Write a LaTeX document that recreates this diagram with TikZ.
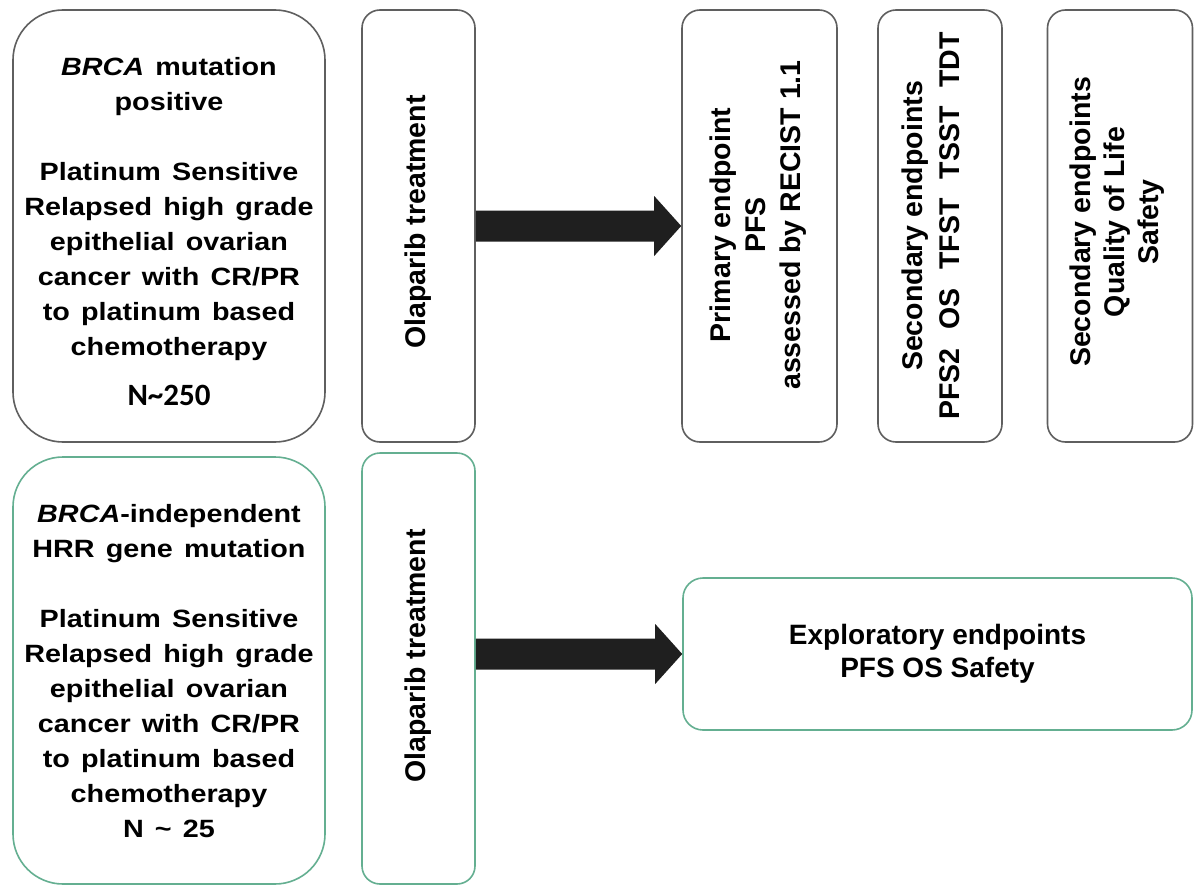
\documentclass[tikz,border=0pt]{standalone}
\usepackage{fontspec}
\setmainfont{Liberation Sans}
\newfontfamily\widefont[FakeStretch=1.15,WordSpace=1.4]{Liberation Sans}
\newfontfamily\calfont{Carlito}
\usetikzlibrary{calc}
\definecolor{edgegray}{RGB}{95,95,95}
\definecolor{edgegreen}{RGB}{100,175,145}
\tikzset{
  box/.style={draw=edgegray, line width=1.6pt, rounded corners=18pt, inner sep=0pt},
  gbox/.style={box, draw=edgegreen},
  htext/.style={font=\widefont\bfseries\fontsize{25}{35}\selectfont, align=center, inner sep=0pt},
  vtext/.style={font=\bfseries\fontsize{28.5}{35}\selectfont, align=center, inner sep=0pt, rotate=90},
  etext/.style={font=\bfseries\fontsize{28}{33}\selectfont, align=center, inner sep=0pt},
  bigarrow/.style={fill=black!88}
}
\begin{document}
\begin{tikzpicture}[x=1pt,y=-1pt]
\useasboundingbox (0,0) rectangle (1194,886);
\fill[white] (0,0) rectangle (1194,886);

% boxes
\node[box, rounded corners=50pt, minimum width=312pt, minimum height=432pt] (a) at (169,226) {};
\node[box, minimum width=113pt, minimum height=432pt] (b) at (418.5,226) {};
\node[box, minimum width=155pt, minimum height=432pt] (p) at (759.5,226) {};
\node[box, minimum width=124pt, minimum height=432pt] (s1) at (940,226) {};
\node[box, minimum width=145pt, minimum height=432pt] (s2) at (1120,226) {};
\node[gbox, rounded corners=50pt, minimum width=312pt, minimum height=427pt] (c) at (169,670.5) {};
\node[gbox, minimum width=113pt, minimum height=431pt] (d) at (418.5,668.5) {};
\node[gbox, rounded corners=20pt, minimum width=509pt, minimum height=152pt] (e) at (937.5,654) {};

% texts
\node[htext] (ta) at (169,232) {\textit{BRCA} mutation\\positive\\[35pt]Platinum Sensitive\\Relapsed high grade\\epithelial ovarian\\cancer with CR/PR\\to platinum based\\chemotherapy\\[15pt]{\calfont\bfseries\fontsize{31}{35}\selectfont N\textasciitilde250}};
\node[htext] (tc) at (169,671) {\textit{BRCA}-independent\\HRR gene mutation\\[35pt]Platinum Sensitive\\Relapsed high grade\\epithelial ovarian\\cancer with CR/PR\\to platinum based\\chemotherapy\\N \textasciitilde{} 25};
\node[vtext] (tb) at (418.5,222) {Olaparib treatment};
\node[vtext] (td) at (418.5,656) {Olaparib treatment};
\node[vtext] (tp) at (758,225) {Primary endpoint\\PFS\\assessed by RECIST 1.1};
\node[vtext, font=\bfseries\fontsize{28.5}{37}\selectfont] (ts1) at (931,226) {Secondary endpoints\\PFS2\hspace{19pt}OS\hspace{19pt}TFST\hspace{19pt}TSST\hspace{19pt}TDT};
\node[vtext, font=\bfseries\fontsize{28.5}{34}\selectfont] (ts2) at (1117,222) {Secondary endpoints\\Quality of Life\\Safety};
\node[etext] (te) at (937.5,654) {Exploratory endpoints\\PFS OS Safety};

% arrows
\coordinate (s1a) at (b.east);
\coordinate (t1a) at (p.west |- s1a);
\fill[bigarrow] ($(s1a)+(0,-15.5)$) -- ($(t1a)+(-27,-15.5)$) -- ($(t1a)+(-27,-30)$) -- (t1a)
  -- ($(t1a)+(-27,30)$) -- ($(t1a)+(-27,15.5)$) -- ($(s1a)+(0,15.5)$) -- cycle;
\coordinate (t2a) at (e.west);
\coordinate (s2a) at (d.east |- t2a);
\fill[bigarrow] ($(s2a)+(0,-15.5)$) -- ($(t2a)+(-27,-15.5)$) -- ($(t2a)+(-27,-30)$) -- (t2a)
  -- ($(t2a)+(-27,30)$) -- ($(t2a)+(-27,15.5)$) -- ($(s2a)+(0,15.5)$) -- cycle;
\end{tikzpicture}
\end{document}
